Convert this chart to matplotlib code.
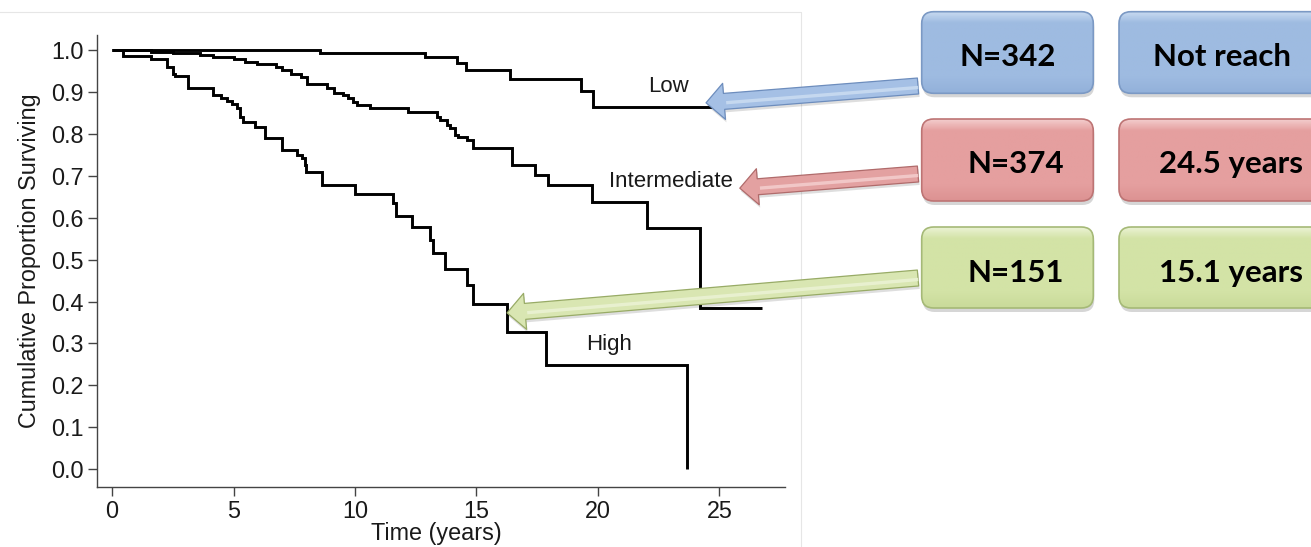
import numpy as np
import matplotlib
matplotlib.use("Agg")
import matplotlib.pyplot as plt
from matplotlib.patches import FancyBboxPatch, FancyArrowPatch
from matplotlib.colors import LinearSegmentedColormap

# ---------------- data ----------------
low_t = [0, 8.56, 12.9, 14.2, 14.55, 16.4, 19.3, 19.8, 25.2]
low_s = [1.0, 0.995, 0.984, 0.969, 0.953, 0.932, 0.903, 0.864, 0.864]

int_t = [0, 1.6, 2.5, 3.6, 4.17, 5.0, 5.47, 5.98, 6.73, 6.98, 7.35, 7.76, 8.04,
         8.86, 9.14, 9.52, 9.72, 9.93, 10.07, 10.62, 12.19, 13.36, 13.5, 13.77,
         13.9, 14.1, 14.25, 14.6, 14.87, 16.45, 17.4, 17.95, 19.74, 22.0, 24.2, 26.74]
int_s = [1.0, 0.996, 0.994, 0.989, 0.984, 0.98, 0.973, 0.968, 0.961, 0.953, 0.945,
         0.937, 0.921, 0.91, 0.898, 0.894, 0.886, 0.878, 0.870, 0.862, 0.854, 0.842,
         0.834, 0.822, 0.814, 0.798, 0.794, 0.786, 0.766, 0.726, 0.703, 0.679, 0.639,
         0.575, 0.384, 0.384]

high_t = [0, 0.45, 1.6, 2.25, 2.5, 2.6, 3.13, 4.15, 4.5, 4.75, 4.95, 5.15, 5.27, 5.4,
          5.9, 6.3, 7.0, 7.6, 7.8, 7.95, 8.0, 8.63, 10.0, 11.56, 11.69, 12.33, 13.09,
          13.2, 13.7, 14.6, 14.86, 16.24, 17.85, 23.66, 23.66]
high_s = [1.0, 0.988, 0.979, 0.96, 0.945, 0.938, 0.91, 0.893, 0.887, 0.88, 0.872, 0.863,
          0.841, 0.830, 0.817, 0.79, 0.762, 0.750, 0.743, 0.726, 0.710, 0.679, 0.656,
          0.636, 0.605, 0.578, 0.547, 0.515, 0.477, 0.44, 0.394, 0.328, 0.249, 0.0, 0.0]

groups = ["Low", "Intermediate", "High"]
group_n = ["N=342", "N=374", "N=151"]
group_median = ["Not reach", "24.5 years", "15.1 years"]

x_ticks = [0, 5, 10, 15, 20, 25]
y_ticks = [0.0, 0.1, 0.2, 0.3, 0.4, 0.5, 0.6, 0.7, 0.8, 0.9, 1.0]

# ---------------- figure ----------------
W, H = 1311, 547
fig = plt.figure(figsize=(W / 100, H / 100), dpi=100)
fig.patch.set_facecolor("white")

plt.rcParams["font.family"] = ["Liberation Sans", "DejaVu Sans"]

# axes placement (pixels): left spine x=97, bottom spine y=487, top y=35, right x=785
ax_l, ax_r, ax_t, ax_b = 97, 785, 35, 487
ax = fig.add_axes([ax_l / W, 1 - ax_b / H, (ax_r - ax_l) / W, (ax_b - ax_t) / H])
ax.set_facecolor("none")

for t, s in [(low_t, low_s), (int_t, int_s), (high_t, high_s)]:
    ax.plot(t, s, drawstyle="steps-post", color="black", lw=2.1, solid_joinstyle="miter",
            solid_capstyle="butt")

ax.set_xlim(-0.62, 27.7)
ax.set_ylim(-0.043, 1.037)
ax.set_xticks(x_ticks)
ax.set_xticklabels([str(v) for v in x_ticks])
ax.set_yticks(y_ticks)
ax.set_yticklabels([f"{v:.1f}" for v in y_ticks])
for side in ["top", "right"]:
    ax.spines[side].set_visible(False)
for side in ["left", "bottom"]:
    ax.spines[side].set_color("#444444")
    ax.spines[side].set_linewidth(1.0)
ax.tick_params(direction="out", length=6.5, width=1.0, color="#444444",
               labelsize=16.8, labelcolor="#1a1a1a", pad=3)
ax.set_xlabel("Time (years)", fontsize=16.8, color="#1a1a1a")
ax.xaxis.set_label_coords(0.494, -0.078)
ax.set_ylabel("Cumulative Proportion Surviving", fontsize=16.8, color="#1a1a1a", labelpad=7)

ax.text(22.9, 0.913, groups[0], fontsize=16, ha="center", va="center", color="#1a1a1a")
ax.text(23.0, 0.687, groups[1], fontsize=16, ha="center", va="center", color="#1a1a1a")
ax.text(20.45, 0.298, groups[2], fontsize=16, ha="center", va="center", color="#1a1a1a")

# ---------------- overlay in pixel coordinates ----------------
ov = fig.add_axes([0, 0, 1, 1], zorder=5)
ov.set_xlim(0, W)
ov.set_ylim(H, 0)
ov.axis("off")
ov.patch.set_alpha(0)

# faint panel border
ov.plot([0, 801, 801], [11.5, 11.5, H], color="#e6e6e6", lw=0.8)

palettes = [
    dict(main="#9ebbe1", bot="#93b1da", edge="#7b99c4", arr="#a5c0e5", arr_edge="#6d8dbd", hi="#c9dbf1"),
    dict(main="#e59f9f", bot="#dc9292", edge="#bd7474", arr="#e3a1a1", arr_edge="#b06b6b", hi="#f3cccc"),
    dict(main="#d3e3a6", bot="#c9da9a", edge="#a5b977", arr="#d9e6b2", arr_edge="#98ab66", hi="#eaf2d3"),
]

rows = [(11.7, 93.3), (119, 201), (227, 308)]
cols = [(921.7, 1093.3), (1119, 1340)]
n_text_x = [1008, 1016, 1016]
m_text_x = [1222, 1231, 1231]
baselines = [66, 173, 282]


def gbox(x0, x1, y0, y1, pal):
    sh = FancyBboxPatch((x0 + 1, y0 + 4), x1 - x0, y1 - y0,
                        boxstyle="round,pad=0,rounding_size=12",
                        fc="#000000", ec="none", alpha=0.16, zorder=1)
    ov.add_patch(sh)
    p = FancyBboxPatch((x0, y0), x1 - x0, y1 - y0,
                       boxstyle="round,pad=0,rounding_size=12",
                       fc="none", ec=pal["edge"], lw=1.2, zorder=3)
    ov.add_patch(p)
    cmap = LinearSegmentedColormap.from_list(
        "g", [(0.0, pal["hi"]), (0.14, pal["main"]), (0.8, pal["main"]), (1.0, pal["bot"])])
    grad = np.linspace(0, 1, 100).reshape(-1, 1)
    im = ov.imshow(grad, cmap=cmap, extent=(x0, x1, y1, y0), aspect="auto", zorder=2,
                   interpolation="bilinear")
    im.set_clip_path(p)


for i, (y0, y1) in enumerate(rows):
    pal = palettes[i]
    for (x0, x1) in cols:
        gbox(x0, x1, y0, y1, pal)
    ov.text(n_text_x[i], baselines[i], group_n[i], fontsize=22.5, fontweight="bold",
            family=["Lato", "DejaVu Sans"], ha="center", va="baseline", color="black", zorder=6)
    ov.text(m_text_x[i], baselines[i], group_median[i], fontsize=22.5, fontweight="bold",
            family=["Lato", "DejaVu Sans"], ha="center", va="baseline", color="black", zorder=6)

# arrows: tips anchored at data points on the curves
arrow_tips = [(24.45, 0.875), (25.84, 0.671), (16.26, 0.373)]
arrow_tails = [(918, 86), (918, 174), (918, 278)]
style = "simple,head_length=13,head_width=26,tail_width=11.5"
for i, ((tx, ty), (sx, sy)) in enumerate(zip(arrow_tips, arrow_tails)):
    dx, dy = ax.transData.transform((tx, ty))
    px, py = dx, H - dy
    pal = palettes[i]
    sh = FancyArrowPatch((sx + 1, sy + 3), (px + 1, py + 3), arrowstyle=style,
                         mutation_scale=1, shrinkA=0, shrinkB=0,
                         fc="#000000", ec="none", alpha=0.13, zorder=7)
    ov.add_patch(sh)
    a = FancyArrowPatch((sx, sy), (px, py), arrowstyle=style,
                        mutation_scale=1, shrinkA=0, shrinkB=0,
                        fc=pal["arr"], ec=pal["arr_edge"], lw=0.9, zorder=8)
    ov.add_patch(a)
    L = np.hypot(sx - px, sy - py)
    ux, uy = (px - sx) / L, (py - sy) / L
    nx, ny = uy, -ux
    hx0, hy0 = sx + nx * 2.5, sy + ny * 2.5 - 1
    hx1, hy1 = px - ux * 20 + nx * 2.5, py - uy * 20 + ny * 2.5 - 1
    ov.plot([hx0, hx1], [hy0, hy1], color=pal["hi"], lw=2.4, alpha=0.9, zorder=9,
            solid_capstyle="butt")

fig.savefig("out.png", dpi=100)
